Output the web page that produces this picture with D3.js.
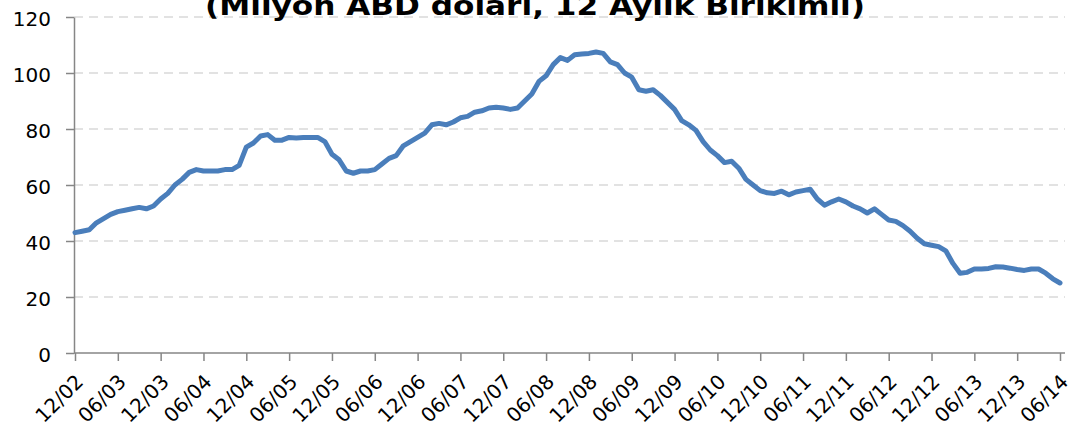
<!DOCTYPE html>
<html>
<head>
<meta charset="utf-8">
<script src="https://cdn.jsdelivr.net/npm/d3@7"></script>
<style>
  body { margin: 0; background: #fff; }
  text { font-family: "DejaVu Sans", sans-serif; }
</style>
</head>
<body>
<div id="chart"></div>
<script>
// data (monthly, 12/02 .. 06/14)
var title = "(Milyon ABD doları, 12 Aylık Birikimli)";
var startYear = 2002, startMonth = 12;
var values = [
  43, 43.5, 44, 46.5, 48, 49.5, 50.5, 51, 51.5, 52, 51.5, 52.5,
  55, 57, 60, 62, 64.5, 65.5, 65, 65, 65, 65.5, 65.5, 67,
  73.5, 75, 77.5, 78, 76, 76, 77, 76.8, 77, 77, 77, 75.5,
  71, 69, 65, 64.2, 65, 65, 65.5, 67.5, 69.5, 70.5, 74, 75.5,
  77, 78.5, 81.5, 82, 81.5, 82.5, 84, 84.5, 86, 86.5, 87.5, 87.8,
  87.5, 87, 87.5, 90, 92.5, 97, 99, 103, 105.5, 104.5, 106.5, 106.8,
  107, 107.5, 107, 104, 103, 100, 98.5, 94, 93.5, 94, 92, 89.5,
  87, 83, 81.5, 79.5, 75.5, 72.5, 70.5, 68, 68.5, 66, 62, 60,
  58, 57.2, 57, 57.8, 56.5, 57.5, 58, 58.5, 55, 52.8, 54, 55,
  54, 52.5, 51.5, 50, 51.5, 49.5, 47.5, 47, 45.5, 43.5, 41, 39,
  38.5, 38, 36.5, 32, 28.5, 28.8, 30, 30, 30.2, 30.8, 30.7, 30.3,
  29.8, 29.5, 30, 30, 28.5, 26.5, 25
];
var yTicks = [0, 20, 40, 60, 80, 100, 120];

function monthLabel(i) {
  var m = (startMonth - 1 + i) % 12 + 1;
  var y = startYear + Math.floor((startMonth - 1 + i) / 12);
  return (m < 10 ? "0" + m : "" + m) + "/" + String(y % 100).padStart(2, "0");
}
var xTicks = d3.range(0, values.length, 6);

var width = 1069, height = 441;
var axisColor = '#868686';

var svg = d3.select("#chart")
  .append("svg")
  .attr("width", width)
  .attr("height", height);

var x = d3.scaleLinear()
  .domain([0, values.length - 1])
  .range([75, 1060]);
var y = d3.scaleLinear()
  .domain([0, 120])
  .range([353, 17]);

// grid
svg.append("g")
  .selectAll("line")
  .data(yTicks.slice(1))
  .enter()
  .append("line")
  .attr("x1", 74)
  .attr("x2", 1065)
  .attr("y1", function (d) {return y(d);})
  .attr("y2", function (d) {return y(d);})
  .attr("stroke", "#d9d9d9")
  .attr("stroke-width", 1.5)
  .attr("stroke-dasharray", "9,6");

// y axis
var yAxis = svg.append("g")
  .attr("transform", "translate(74,0)")
  .call(d3.axisLeft(y).tickValues(yTicks).tickSize(8).tickSizeOuter(0).tickPadding(15));
yAxis.selectAll("text")
  .attr("font-size", 20)
  .attr("fill", "#000")
  .attr("dy", "0.4em")
  .style("font-family", "'DejaVu Sans', sans-serif");

// x axis
var xAxis = svg.append("g")
  .attr("transform", "translate(0," + y(0) + ")")
  .call(d3.axisBottom(x).tickValues(xTicks).tickSize(8).tickSizeOuter(0).tickFormat(monthLabel));
xAxis.select(".domain").remove();
xAxis.append("line")
  .attr("x1", 74)
  .attr("x2", 1065)
  .attr("stroke", axisColor)
  .attr("stroke-width", 1.5);
xAxis.selectAll("text")
  .attr("font-size", 20)
  .attr("fill", "#000")
  .attr("text-anchor", "end")
  .attr("x", 0)
  .attr("y", 0)
  .attr("dy", 0)
  .attr("transform", "translate(9,30) rotate(-45)")
  .style("font-family", "'DejaVu Sans', sans-serif");

svg.selectAll(".domain, .tick line")
  .attr("stroke", axisColor)
  .attr("stroke-width", 1.5);

// series
var line = d3.line()
  .x(function (d, i) {return x(i);})
  .y(function (d) {return y(d);});

svg.append("path")
  .datum(values)
  .attr("d", line)
  .attr("fill", "none")
  .attr("stroke", "#4a7ebb")
  .attr("stroke-width", 5)
  .attr("stroke-linejoin", "round")
  .attr("stroke-linecap", "round");

// title (clipped at the top like the source)
svg.append("text")
  .attr("x", 535)
  .attr("y", 15)
  .attr("text-anchor", "middle")
  .attr("font-size", 26)
  .attr("font-weight", "bold")
  .attr("fill", "#000")
  .attr("textLength", 660)
  .attr("lengthAdjust", "spacingAndGlyphs")
  .text(title);
</script>
</body>
</html>
